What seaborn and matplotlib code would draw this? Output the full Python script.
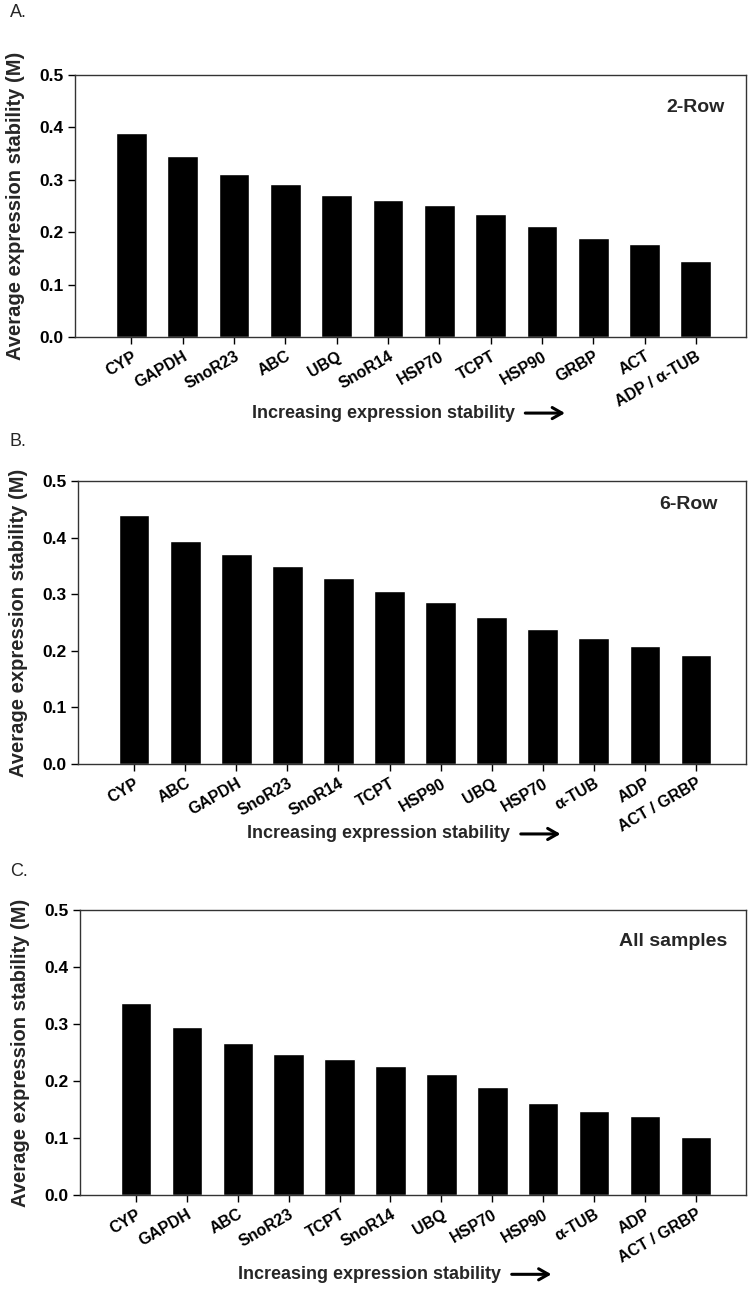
import numpy as np
import matplotlib
matplotlib.use("Agg")
import matplotlib.pyplot as plt
from matplotlib.patches import FancyArrowPatch
import pandas as pd
import seaborn as sns

sns.set_style("ticks")
plt.rcParams['font.family'] = ['Liberation Sans', 'DejaVu Sans']

# data
genes_a = ["CYP", "GAPDH", "SnoR23", "ABC", "UBQ", "SnoR14", "HSP70", "TCPT",
           "HSP90", "GRBP", "ACT", "ADP / α-TUB"]
m_a = [0.390, 0.346, 0.311, 0.291, 0.270, 0.261, 0.251, 0.235, 0.211, 0.189, 0.178, 0.145]

genes_b = ["CYP", "ABC", "GAPDH", "SnoR23", "SnoR14", "TCPT", "HSP90", "UBQ",
           "HSP70", "α-TUB", "ADP", "ACT / GRBP"]
m_b = [0.440, 0.393, 0.371, 0.350, 0.329, 0.306, 0.286, 0.259, 0.239, 0.222, 0.209, 0.192]

genes_c = ["CYP", "GAPDH", "ABC", "SnoR23", "TCPT", "SnoR14", "UBQ", "HSP70",
           "HSP90", "α-TUB", "ADP", "ACT / GRBP"]
m_c = [0.337, 0.294, 0.266, 0.248, 0.238, 0.227, 0.213, 0.190, 0.161, 0.148, 0.139, 0.101]

# letter, tag, genes, values, axes rect, letter y, tag (x, y), caption y, caption right x
panels = [
    ("A.", "2-Row", genes_a, m_a, [0.0995, 0.7406, 0.890, 0.2017], 0.990,
     (0.968, 0.875), 0.682, 0.683),
    ("B.", "6-Row", genes_b, m_b, [0.1034, 0.4119, 0.886, 0.2179], 0.660,
     (0.958, 0.918), 0.358, 0.677),
    ("C.", "All samples", genes_c, m_c, [0.1061, 0.0801, 0.883, 0.2194], 0.329,
     (0.972, 0.891), 0.019, 0.665),
]

fig = plt.figure(figsize=(7.54, 12.99), dpi=100)

for letter, tag, genes, vals, rect, ly, (tx, ty), cy, cx in panels:
    ax = fig.add_axes(rect)
    df = pd.DataFrame({"gene": genes, "M": vals})
    sns.barplot(data=df, x="gene", y="M", color="black", width=0.6,
                saturation=1, ax=ax)
    ax.set_xlim(-1.1, 11.98)
    ax.set_ylim(0, 0.5)
    yt = np.arange(0, 0.51, 0.1)
    ax.set_yticks(yt)
    ax.set_yticklabels([f"{v:.1f}" for v in yt], fontsize=12.5,
                       fontweight="bold")
    ax.set_xticks(range(len(genes)))
    ax.set_xticklabels(genes, rotation=30, ha="right", rotation_mode="anchor",
                       fontsize=11.5, fontweight="bold")
    ax.tick_params(direction="out", length=5, width=1, colors="black")
    for s in ax.spines.values():
        s.set_visible(True)
        s.set_linewidth(1)
        s.set_color("#333333")
    ax.set_xlabel("")
    ax.set_ylabel("Average expression stability (M)", fontsize=14.5,
                  fontweight="bold", labelpad=10)
    ax.text(tx, ty, tag, transform=ax.transAxes, ha="right", va="center",
            fontsize=14, fontweight="bold")
    fig.text(0.013, ly, letter, fontsize=13, ha="left", va="center")
    # x axis caption with arrow
    fig.text(cx, cy, "Increasing expression stability", fontsize=13,
             fontweight="bold", ha="right", va="center")
    x0 = cx + 0.010
    fig.add_artist(FancyArrowPatch(
        (x0, cy), (x0 + 0.060, cy), transform=fig.transFigure,
        arrowstyle="->,head_length=7,head_width=4", lw=2.2, color="black",
        mutation_scale=1))

fig.savefig("out.png", dpi=100)
